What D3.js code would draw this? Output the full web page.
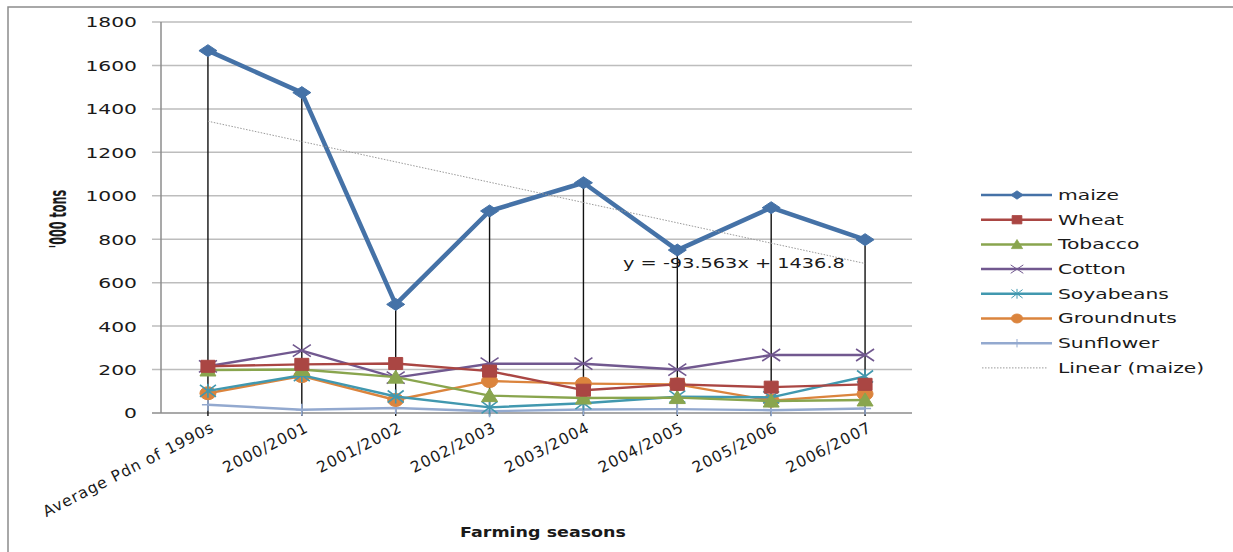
<!DOCTYPE html>
<html>
<head>
<meta charset="utf-8">
<script src="https://cdn.jsdelivr.net/npm/d3@7/dist/d3.min.js"></script>
<style>
  html, body { margin: 0; padding: 0; background: #fff; }
  svg { display: block; }
  text { font-family: "DejaVu Sans", sans-serif; fill: #1a1a1a; }
</style>
</head>
<body>
<svg id="chart" width="1233" height="552"></svg>
<script>
// Crop production by farming season ('000 tons)
const seasons = ["Average Pdn of 1990s", "2000/2001", "2001/2002", "2002/2003",
                 "2003/2004", "2004/2005", "2005/2006", "2006/2007"];
const maize      = [1668, 1475, 500, 930, 1060, 750, 945, 798];
const wheat      = [215, 224, 228, 193, 105, 132, 119, 132];
const tobacco    = [198, 200, 165, 80, 69, 71, 55, 60];
const cotton     = [215, 287, 163, 227, 227, 200, 267, 267];
const soyabeans  = [102, 174, 76, 26, 45, 75, 72, 168];
const groundnuts = [91, 170, 60, 147, 135, 132, 57, 88];
const sunflower  = [38, 15, 23, 8, 16, 18, 13, 21];
const yTicks = [0, 200, 400, 600, 800, 1000, 1200, 1400, 1600, 1800];
// Linear trend fitted on maize (x = 1..8)
const trendSlope = -93.563;
const trendIntercept = 1436.8;

const seriesList = [
  { name: "maize",      values: maize,      color: "#4572A7", width: 4.5, marker: "diamond" },
  { name: "Wheat",      values: wheat,      color: "#AA4643", width: 2.4, marker: "square" },
  { name: "Tobacco",    values: tobacco,    color: "#89A54E", width: 2.4, marker: "triangle" },
  { name: "Cotton",     values: cotton,     color: "#71588F", width: 2.4, marker: "x" },
  { name: "Soyabeans",  values: soyabeans,  color: "#4198AF", width: 2.4, marker: "star" },
  { name: "Groundnuts", values: groundnuts, color: "#DB843D", width: 2.4, marker: "circle" },
  { name: "Sunflower",  values: sunflower,  color: "#93A9CF", width: 2.4, marker: "plus" }
];

const svg = d3.select("#chart");
const plotL = 161, plotR = 912, plotT = 22, plotB = 413;
const SX = 1.45; // horizontal text stretch

// outer chart frame
svg.append("rect").attr("x", 8).attr("y", 7).attr("width", 1240).attr("height", 560)
  .attr("fill", "none").attr("stroke", "#8c8c8c").attr("stroke-width", 1.5);

const x = d3.scalePoint().domain(seasons).range([plotL, plotR]).padding(0.5);
const y = d3.scaleLinear().domain([0, 1800]).range([plotB, plotT]);

// horizontal gridlines
svg.append("g").selectAll("line").data(yTicks).join("line")
  .attr("x1", plotL - 9).attr("x2", plotR)
  .attr("y1", d => y(d)).attr("y2", d => y(d))
  .attr("stroke", d => d === 0 ? "#8c8c8c" : "#bdbdbd").attr("stroke-width", 1.5);

// y axis line
svg.append("line").attr("x1", plotL).attr("x2", plotL).attr("y1", plotT).attr("y2", plotB)
  .attr("stroke", "#8c8c8c").attr("stroke-width", 1.5);

// y tick labels
const yAxis = d3.axisLeft(y).tickValues(yTicks).tickFormat(d3.format("d")).tickSize(0).tickPadding(0);
const gy = svg.append("g").attr("transform", `translate(${plotL - 24},0)`).call(yAxis);
gy.select(".domain").remove();
gy.selectAll("text")
  .attr("font-size", 14).attr("font-family", "DejaVu Sans").attr("fill", "#1a1a1a")
  .attr("x", 0).attr("dy", "0.35em")
  .attr("transform", `scale(${SX},1)`)
  .attr("text-anchor", "end");

// x tick labels
const xAxis = d3.axisBottom(x).tickSize(0).tickPadding(0);
const gx = svg.append("g").attr("transform", `translate(0,${plotB})`).call(xAxis);
gx.select(".domain").remove();
gx.selectAll(".tick text")
  .attr("font-size", 15.5).attr("font-family", "DejaVu Sans").attr("fill", "#1a1a1a")
  .attr("letter-spacing", "1px")
  .attr("text-anchor", "end").attr("y", 0).attr("dy", 0)
  .attr("transform", "translate(7,18) rotate(-27)");

// drop lines from maize points to the axis
svg.append("g").selectAll("line").data(maize).join("line")
  .attr("x1", (d, i) => x(seasons[i])).attr("x2", (d, i) => x(seasons[i]))
  .attr("y1", d => y(d)).attr("y2", plotB + 3)
  .attr("stroke", "#111").attr("stroke-width", 1.4);

// marker shapes
function markerPath(kind, s) {
  switch (kind) {
    case "diamond":  return `M${-9*s},0L0,${-6*s}L${9*s},0L0,${6*s}Z`;
    case "square":   return `M${-7*s},${-6*s}h${14*s}v${12*s}h${-14*s}Z`;
    case "triangle": return `M${-8*s},${6*s}L0,${-7*s}L${8*s},${6*s}Z`;
    case "x":        return `M${-9*s},${-6*s}L${9*s},${6*s}M${-9*s},${6*s}L${9*s},${-6*s}`;
    case "star":     return `M${-8*s},${-6*s}L${8*s},${6*s}M${-8*s},${6*s}L${8*s},${-6*s}M0,${-7*s}V${7*s}`;
    case "circle":   return `M${-8*s},0A${8*s},${6.5*s} 0 1,0 ${8*s},0A${8*s},${6.5*s} 0 1,0 ${-8*s},0Z`;
    case "plus":     return `M0,${-6*s}V${6*s}M${-6*s},0H${6*s}`;
  }
}
const strokeOnly = k => k === "x" || k === "star" || k === "plus";

// series lines + markers (bottom series first so maize sits on top)
const line = d3.line().x((d, i) => x(seasons[i])).y(d => y(d));
seriesList.slice().reverse().forEach(s => {
  const g = svg.append("g");
  g.append("path").attr("d", line(s.values)).attr("fill", "none")
    .attr("stroke", s.color).attr("stroke-width", s.width).attr("stroke-linejoin", "round");
  g.selectAll("path.m").data(s.values).join("path").attr("class", "m")
    .attr("transform", (d, i) => `translate(${x(seasons[i])},${y(d)})`)
    .attr("d", markerPath(s.marker, 1))
    .attr("fill", strokeOnly(s.marker) ? "none" : s.color)
    .attr("stroke", s.color).attr("stroke-width", strokeOnly(s.marker) ? 1.6 : 1);
});

// maize linear trendline
const xFirst = 1, xLast = seasons.length;
svg.append("line")
  .attr("x1", x(seasons[0])).attr("y1", y(trendSlope * xFirst + trendIntercept))
  .attr("x2", x(seasons[xLast - 1])).attr("y2", y(trendSlope * xLast + trendIntercept))
  .attr("stroke", "#9a9a9a").attr("stroke-width", 1).attr("stroke-dasharray", "1.5,1.5");
svg.append("text")
  .attr("transform", `translate(623,268) scale(1.38,1)`)
  .attr("font-size", 14).text(`y = ${trendSlope}x + ${trendIntercept}`);

// axis titles
svg.append("text").attr("transform", `translate(543,537) scale(1.25,1)`)
  .attr("text-anchor", "middle").attr("font-size", 14).attr("font-weight", "bold")
  .text("Farming seasons");
svg.append("text").attr("transform", `translate(66,219) rotate(-90) scale(0.8,1.6)`)
  .attr("text-anchor", "middle").attr("font-size", 14).attr("font-weight", "bold")
  .attr("font-family", "Liberation Sans")
  .text("'000 tons");

// legend
const legend = svg.append("g");
const legendItems = seriesList.map(s => ({ ...s, trend: false }))
  .concat([{ name: "Linear (maize)", trend: true }]);
legendItems.forEach((s, i) => {
  const ly = 195 + i * 24.7;
  const g = legend.append("g").attr("transform", `translate(0,${ly})`);
  if (s.trend) {
    g.append("line").attr("x1", 982).attr("x2", 1048).attr("y1", 0).attr("y2", 0)
      .attr("stroke", "#9a9a9a").attr("stroke-width", 1).attr("stroke-dasharray", "1.5,1.5");
  } else {
    g.append("line").attr("x1", 981).attr("x2", 1052).attr("y1", 0).attr("y2", 0)
      .attr("stroke", s.color).attr("stroke-width", 2.5);
    g.append("path").attr("transform", "translate(1017,0)")
      .attr("d", markerPath(s.marker, 0.7))
      .attr("fill", strokeOnly(s.marker) ? "none" : s.color)
      .attr("stroke", s.color).attr("stroke-width", strokeOnly(s.marker) ? 1 : 0.8);
  }
  g.append("text").attr("transform", `translate(1058,0) scale(${SX},1)`)
    .attr("dy", "0.35em").attr("font-size", 14).text(s.name);
});
</script>
</body>
</html>
